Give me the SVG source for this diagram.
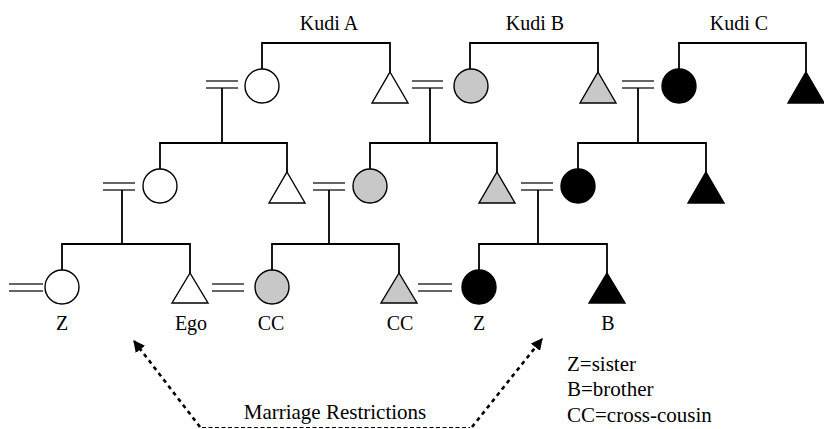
<svg xmlns="http://www.w3.org/2000/svg" width="824" height="429" viewBox="0 0 824 429">
  <defs>
    <style>
      .lbl { font-family: "Liberation Serif", "Times New Roman", serif; font-size: 20px; fill: #000; }
      .big { font-size: 21px; }
      .mid { text-anchor: middle; }
      .line { fill: none; stroke: #000; stroke-width: 1.8; }
      .wed { fill: none; stroke: #333; stroke-width: 1.3; }
      .p { stroke: #000; stroke-width: 1.4; }
      .a { fill: #fff; }
      .b { fill: #c8c8c8; }
      .c { fill: #000; }
      .dots { fill: none; stroke: #000; stroke-width: 2.6; stroke-dasharray: 4 4; }
      .dash { fill: none; stroke: #000; stroke-width: 1; stroke-dasharray: 4 2.5; }
    </style>
    <marker id="head" viewBox="0 0 10 10" refX="9" refY="5" markerWidth="4.5" markerHeight="4.5" markerUnits="strokeWidth" orient="auto">
      <path d="M0,0 L10,5 L0,10 z" fill="#000"/>
    </marker>
  </defs>

  <rect width="824" height="429" fill="#fff"/>

  <!-- kudi labels -->
  <text class="lbl mid" x="329" y="30">Kudi A</text>
  <text class="lbl mid" x="535" y="30">Kudi B</text>
  <text class="lbl mid" x="739" y="30">Kudi C</text>

  <!-- descent lines, sibling bars and marriage signs -->
  <g id="connectors">
    <!-- generation 1 sibling bars -->
    <path class="line" d="M262,69 V43 H390 V72"/>
    <path class="line" d="M470,69 V43 H598 V72"/>
    <path class="line" d="M679,69 V43 H806 V72"/>
    <!-- generation 1 marriages -->
    <path class="wed" d="M206,81 H238 M206,88 H238"/>
    <path class="wed" d="M412,81 H443 M412,88 H443"/>
    <path class="wed" d="M622,81 H654 M622,88 H654"/>
    <!-- descent to generation 2 -->
    <path class="line" d="M222,88 V143 M160,169 V143 H287 V172"/>
    <path class="line" d="M430,88 V143 M370,169 V143 H497 V172"/>
    <path class="line" d="M638,88 V143 M578,169 V143 H706 V172"/>
    <!-- generation 2 marriages -->
    <path class="wed" d="M103,183 H135 M103,190 H135"/>
    <path class="wed" d="M313,183 H345 M313,190 H345"/>
    <path class="wed" d="M521,183 H553 M521,190 H553"/>
    <!-- descent to generation 3 -->
    <path class="line" d="M122,190 V244 M62,270 V244 H190 V273"/>
    <path class="line" d="M329,190 V244 M272,270 V244 H399 V273"/>
    <path class="line" d="M538,190 V244 M479,270 V244 H607 V273"/>
    <!-- generation 3 marriages -->
    <path class="wed" d="M9,284 H43 M9,291 H43"/>
    <path class="wed" d="M212,284 H244 M212,291 H244"/>
    <path class="wed" d="M418,284 H452 M418,291 H452"/>
    <!-- marriage restrictions -->
    <path class="dash" d="M202,427.5 H470"/>
    <path class="dots" d="M200,427 L134,341" marker-end="url(#head)"/>
    <path class="dots" d="M472,427 L542,339" marker-end="url(#head)"/>
  </g>

  <!-- generation 1 -->
  <g id="a1f"><circle class="p a" cx="262" cy="86" r="17"/></g>
  <g id="a1m"><path class="p a" d="M390,72 L408,103 L372,103 z"/></g>
  <g id="b1f"><circle class="p b" cx="471" cy="86" r="17"/></g>
  <g id="b1m"><path class="p b" d="M598,72 L616,103 L580,103 z"/></g>
  <g id="c1f"><circle class="p c" cx="679" cy="86" r="17"/></g>
  <g id="c1m"><path class="p c" d="M806,72 L824,103 L788,103 z"/></g>

  <!-- generation 2 -->
  <g id="a2f"><circle class="p a" cx="160" cy="186" r="17"/></g>
  <g id="a2m"><path class="p a" d="M287,172 L305,203 L269,203 z"/></g>
  <g id="b2f"><circle class="p b" cx="370" cy="186" r="17"/></g>
  <g id="b2m"><path class="p b" d="M497,172 L515,203 L479,203 z"/></g>
  <g id="c2f"><circle class="p c" cx="578" cy="186" r="17"/></g>
  <g id="c2m"><path class="p c" d="M706,172 L724,203 L688,203 z"/></g>

  <!-- generation 3 -->
  <g id="sister"><circle class="p a" cx="62" cy="287" r="17"/><text class="lbl mid" x="62" y="330">Z</text></g>
  <g id="ego"><path class="p a" d="M190,273 L208,303 L172,303 z"/><text class="lbl mid" x="191" y="330">Ego</text></g>
  <g id="cousin-f"><circle class="p b" cx="272" cy="287" r="17"/><text class="lbl mid" x="271" y="330">CC</text></g>
  <g id="cousin-m"><path class="p b" d="M399,273 L417,303 L381,303 z"/><text class="lbl mid" x="400" y="330">CC</text></g>
  <g id="c-sister"><circle class="p c" cx="479" cy="287" r="17"/><text class="lbl mid" x="479" y="330">Z</text></g>
  <g id="c-brother"><path class="p c" d="M607,273 L625,303 L589,303 z"/><text class="lbl mid" x="608" y="330">B</text></g>

  <text class="lbl big mid" x="335" y="419">Marriage Restrictions</text>

  <!-- key -->
  <g id="key">
    <text class="lbl big" x="567" y="371">Z=sister</text>
    <text class="lbl big" x="567" y="396">B=brother</text>
    <text class="lbl big" x="567" y="422">CC=cross-cousin</text>
  </g>
</svg>
